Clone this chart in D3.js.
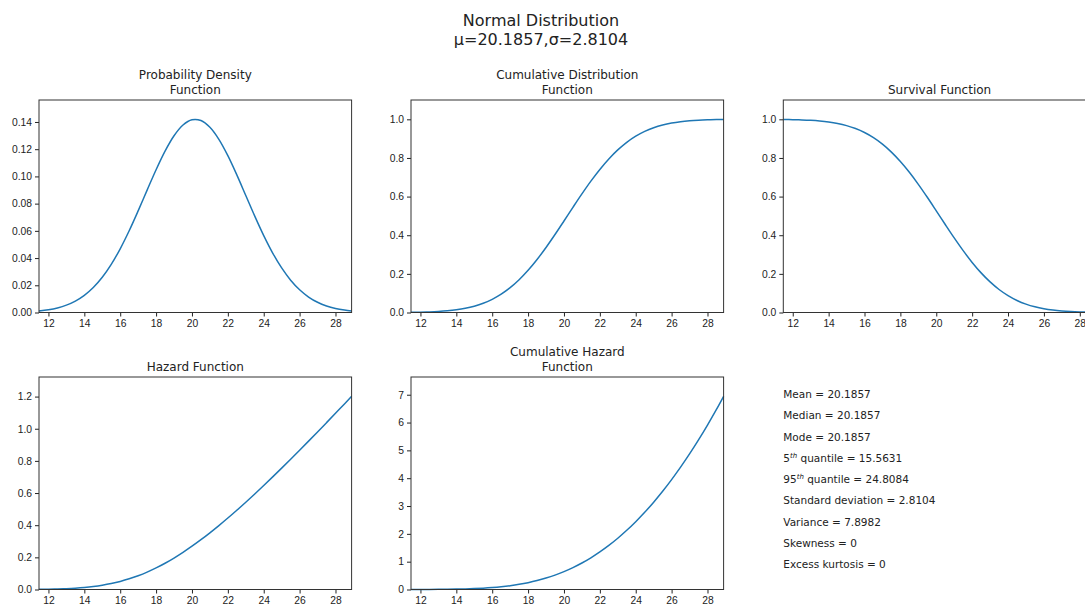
<!DOCTYPE html>
<html>
<head>
<meta charset="utf-8">
<script src="https://cdn.jsdelivr.net/npm/d3@7"></script>
<style>
  body { margin: 0; background: #fff; }
  svg { display: block; font-family: "DejaVu Sans", sans-serif; }
  .tick text { fill: #222; }
</style>
</head>
<body>
<div id="chart"></div>
<script>
var xs = [11.47, 12, 12.5, 13, 13.5, 14, 14.5, 15, 15.5, 16, 16.5, 17, 17.5, 18, 18.5,
          19, 19.5, 20, 20.5, 21, 21.5, 22, 22.5, 23, 23.5, 24, 24.5, 25, 25.5, 26,
          26.5, 27, 27.5, 28, 28.5, 28.9];

var pdfVals = [0.00116, 0.00204, 0.00337, 0.00540, 0.00838, 0.01260, 0.01834, 0.02587,
               0.03536, 0.04682, 0.06007, 0.07467, 0.08992, 0.10491, 0.11858, 0.12987,
               0.13779, 0.14164, 0.14107, 0.13612, 0.12725, 0.11525, 0.10113, 0.08598,
               0.07082, 0.05651, 0.04370, 0.03273, 0.02375, 0.01670, 0.01138, 0.00751,
               0.00480, 0.00297, 0.00179, 0.00116];

var cdfVals = [0.00097, 0.00179, 0.00312, 0.00528, 0.00868, 0.01387, 0.02153, 0.03251,
               0.04773, 0.06826, 0.09485, 0.12850, 0.16964, 0.21835, 0.27432, 0.33655,
               0.40362, 0.47364, 0.54451, 0.61398, 0.67999, 0.74073, 0.79489, 0.84168,
               0.88086, 0.91264, 0.93762, 0.95664, 0.97068, 0.98072, 0.98767, 0.99234,
               0.99537, 0.99729, 0.99845, 0.99903];

var sfVals = [0.99903, 0.99821, 0.99688, 0.99472, 0.99132, 0.98613, 0.97847, 0.96749,
              0.95227, 0.93174, 0.90515, 0.87150, 0.83036, 0.78165, 0.72568, 0.66345,
              0.59638, 0.52636, 0.45549, 0.38602, 0.32001, 0.25927, 0.20511, 0.15832,
              0.11914, 0.08736, 0.06238, 0.04336, 0.02932, 0.01928, 0.01233, 0.00766,
              0.00463, 0.00271, 0.00155, 0.00097];

var hazardVals = [0.00116, 0.00205, 0.00339, 0.00543, 0.00845, 0.01277, 0.01874, 0.02674,
                  0.03713, 0.05025, 0.06636, 0.08568, 0.10829, 0.13421, 0.16341, 0.19574,
                  0.23104, 0.26910, 0.30971, 0.35262, 0.39764, 0.44453, 0.49304, 0.54307,
                  0.59441, 0.64690, 0.70044, 0.75486, 0.81016, 0.86617, 0.92277, 0.97987,
                  1.0378, 1.0959, 1.1544, 1.2016];

var cumHazardVals = [0.00097, 0.00179, 0.00313, 0.00529, 0.00872, 0.01397, 0.02177, 0.03305,
                     0.04891, 0.07070, 0.09966, 0.13754, 0.18590, 0.24635, 0.32065, 0.41030,
                     0.51688, 0.64177, 0.78638, 0.95186, 1.1394, 1.3499, 1.5842, 1.8432,
                     2.1275, 2.4378, 2.7745, 3.1383, 3.5295, 3.9488, 4.3960, 4.8716,
                     5.3760, 5.9094, 6.4719, 6.9431];

var xTicks = [12, 14, 16, 18, 20, 22, 24, 26, 28];
var xLimits = [11.4733, 28.8981];

var panels = [
  { title: ["Probability Density", "Function"], ys: pdfVals, ymax: 0.15615,
    ticks: [0, 0.02, 0.04, 0.06, 0.08, 0.10, 0.12, 0.14], fmt: ".2f", col: 0, row: 0 },
  { title: ["Cumulative Distribution", "Function"], ys: cdfVals, ymax: 1.1,
    ticks: [0, 0.2, 0.4, 0.6, 0.8, 1.0], fmt: ".1f", col: 1, row: 0 },
  { title: ["Survival Function"], ys: sfVals, ymax: 1.1,
    ticks: [0, 0.2, 0.4, 0.6, 0.8, 1.0], fmt: ".1f", col: 2, row: 0 },
  { title: ["Hazard Function"], ys: hazardVals, ymax: 1.3218,
    ticks: [0, 0.2, 0.4, 0.6, 0.8, 1.0, 1.2], fmt: ".1f", col: 0, row: 1 },
  { title: ["Cumulative Hazard", "Function"], ys: cumHazardVals, ymax: 7.637,
    ticks: [0, 1, 2, 3, 4, 5, 6, 7], fmt: "d", col: 1, row: 1 }
];

var statLines = [
  ["Mean = 20.1857"],
  ["Median = 20.1857"],
  ["Mode = 20.1857"],
  ["5", "th", " quantile = 15.5631"],
  ["95", "th", " quantile = 24.8084"],
  ["Standard deviation = 2.8104"],
  ["Variance = 7.8982"],
  ["Skewness = 0"],
  ["Excess kurtosis = 0"]
];

var width = 1085, height = 605;
var colLeft = [39, 411, 783.3];
var rowTop = [100, 377];
var axW = 312.6, axH = 212.5;
var lineColor = "#1f77b4";

var svg = d3.select("#chart").append("svg")
    .attr("width", width)
    .attr("height", height);

// figure title
svg.append("text")
    .attr("x", 541).attr("y", 26)
    .attr("text-anchor", "middle")
    .style("font-size", "16px").style("fill", "#222")
    .text("Normal Distribution");
svg.append("text")
    .attr("x", 541).attr("y", 45)
    .attr("text-anchor", "middle")
    .style("font-size", "16px").style("fill", "#222")
    .text("\u03bc=20.1857,\u03c3=2.8104");

panels.forEach(function(p) {
  var x0 = colLeft[p.col], y0 = rowTop[p.row];
  var g = svg.append("g").attr("transform", "translate(" + x0 + "," + y0 + ")");

  var x = d3.scaleLinear().domain(xLimits).range([0, axW]);
  var y = d3.scaleLinear().domain([0, p.ymax]).range([axH, 0]);

  var xAxis = d3.axisBottom(x).tickValues(xTicks).tickSize(4).tickPadding(3)
      .tickFormat(d3.format("d"));
  var yAxis = d3.axisLeft(y).tickValues(p.ticks).tickSize(4).tickPadding(3)
      .tickFormat(d3.format(p.fmt));

  g.append("g").attr("transform", "translate(0," + axH + ")").call(xAxis)
      .call(function(s) { s.select(".domain").remove(); })
      .selectAll("text").style("font-size", "10.3px");
  g.append("g").call(yAxis)
      .call(function(s) { s.select(".domain").remove(); })
      .selectAll("text").style("font-size", "10.3px");
  g.selectAll(".tick line").attr("stroke", "#222");

  var line = d3.line()
      .x(function(d, i) { return x(xs[i]); })
      .y(function(d) { return y(d); })
      .curve(d3.curveCatmullRom);

  g.append("path")
      .datum(p.ys)
      .attr("d", line)
      .attr("fill", "none")
      .attr("stroke", lineColor)
      .attr("stroke-width", 1.5);

  g.append("rect")
      .attr("width", axW).attr("height", axH)
      .attr("fill", "none").attr("stroke", "#333").attr("stroke-width", 1);

  var titleY = p.title.length == 2 ? -21 : -6;
  p.title.forEach(function(t, i) {
    g.append("text")
        .attr("x", axW / 2).attr("y", titleY + i * 15)
        .attr("text-anchor", "middle")
        .style("font-size", "12px").style("fill", "#222")
        .text(t);
  });
});

// stats text in the empty sixth cell
var stats = svg.append("g").attr("transform", "translate(783.3,398)");
statLines.forEach(function(parts, i) {
  var t = stats.append("text")
      .attr("y", i * 21.25)
      .style("font-size", "10.5px").style("fill", "#222");
  if (parts.length == 1) {
    t.text(parts[0]);
  } else {
    t.append("tspan").text(parts[0]);
    t.append("tspan").attr("dy", -4).style("font-size", "7px")
        .style("font-style", "italic").text(parts[1]);
    t.append("tspan").attr("dy", 4).text(parts[2]);
  }
});
</script>
</body>
</html>
